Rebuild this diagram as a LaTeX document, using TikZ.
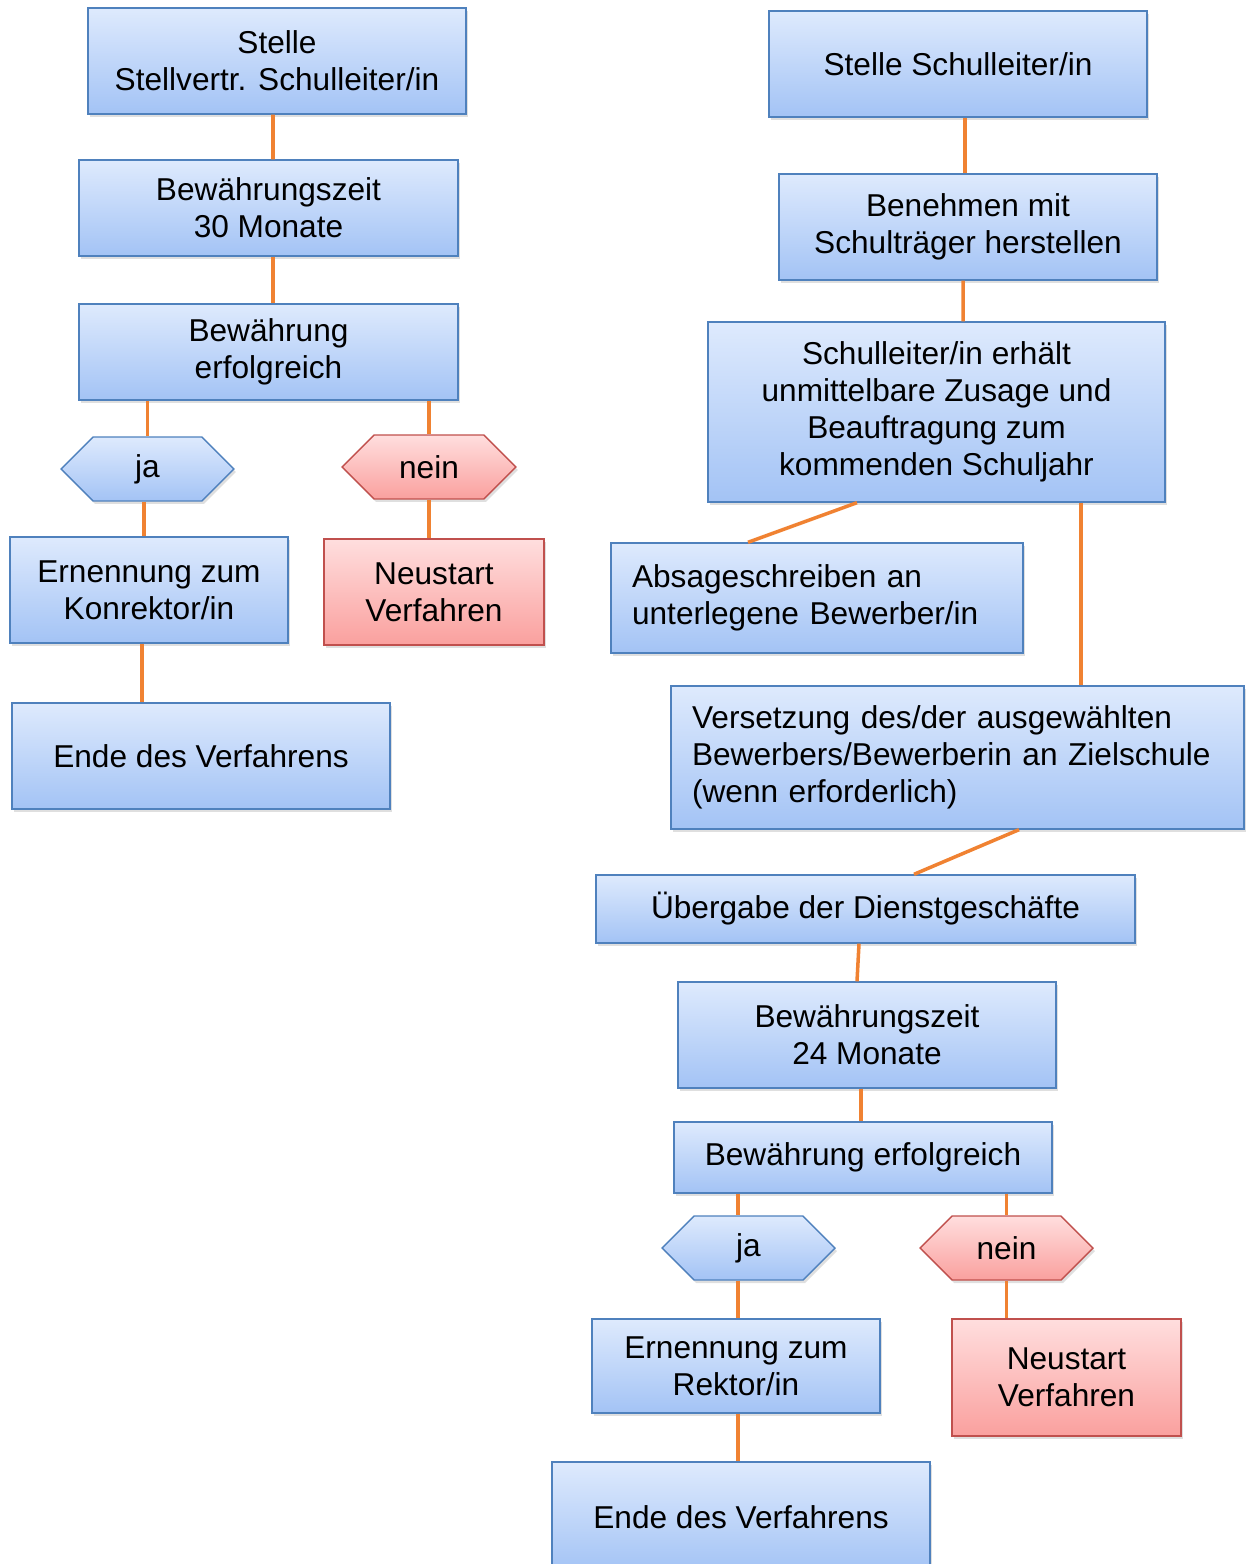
\documentclass[tikz,border=0pt]{standalone}
\usepackage{fontspec}
\setmainfont{Liberation Sans}
\usepackage{xcolor}
\usepackage{tikz}
\usetikzlibrary{calc,shapes.symbols,shadows}
\definecolor{boxtop}{RGB}{222,234,253}
\definecolor{boxbot}{RGB}{163,195,245}
\definecolor{boxline}{RGB}{79,129,189}
\definecolor{redtop}{RGB}{255,222,222}
\definecolor{redbot}{RGB}{250,160,158}
\definecolor{redline}{RGB}{192,80,77}
\definecolor{lnkcol}{RGB}{240,130,50}

\begin{document}
\begin{tikzpicture}[
  x=0.02cm, y=-0.02cm,
  every node/.style={font=\fontsize{18}{21}\selectfont},
  blu/.style={rectangle, draw=boxline, line width=0.8pt, top color=boxtop, bottom color=boxbot,
              align=center, inner sep=0pt,
              drop shadow={shadow xshift=0.04cm, shadow yshift=-0.06cm, opacity=0.25}},
  rot/.style={blu, draw=redline, top color=redtop, bottom color=redbot},
  hexb/.style={blu, signal, signal to=west and east, signal pointer angle=90},
  hexr/.style={hexb, draw=redline, top color=redtop, bottom color=redbot},
  lnk/.style={draw=lnkcol, line width=2pt},
]
\useasboundingbox (0,0) rectangle (1249,1564);
% linke Spalte
\node[blu, minimum width=7.56cm, minimum height=2.12cm] (s1) at (277,61) {Stelle\\Stellvertr. Schulleiter/in};
\node[blu, minimum width=7.58cm, minimum height=1.92cm] (bz1) at (268.5,208) {Bewährungszeit\\30 Monate};
\node[blu, minimum width=7.58cm, minimum height=1.92cm] (be1) at (268.5,352) {Bewährung\\erfolgreich};
\node[hexb, minimum width=3.46cm, minimum height=1.28cm] (ja1) at (147.5,469) {ja};
\node[hexr, minimum width=3.48cm, minimum height=1.28cm] (nein1) at (429,467) {nein};
\node[blu, minimum width=5.56cm, minimum height=2.12cm] (ern1) at (149,590) {Ernennung zum\\Konrektor/in};
\node[rot, minimum width=4.4cm, minimum height=2.12cm] (neu1) at (434,592) {Neustart\\Verfahren};
\node[blu, minimum width=7.56cm, minimum height=2.12cm] (ende1) at (201,756) {Ende des Verfahrens};
% rechte Spalte
\node[blu, minimum width=7.56cm, minimum height=2.12cm] (s2) at (958,64) {Stelle Schulleiter/in};
\node[blu, minimum width=7.56cm, minimum height=2.12cm] (ben) at (968,227) {Benehmen mit\\Schulträger herstellen};
\node[blu, minimum width=9.14cm, minimum height=3.6cm] (erh) at (936.5,412)
  {Schulleiter/in erhält\\unmittelbare Zusage und\\Beauftragung zum\\kommenden Schuljahr};
\node[blu, minimum width=8.24cm, minimum height=2.2cm, text width=7.4cm, align=left] (abs) at (817,598)
  {Absageschreiben an\\unterlegene Bewerber/in};
\node[blu, minimum width=11.46cm, minimum height=2.86cm, text width=10.62cm, align=left] (vers) at (957.5,757.5)
  {Versetzung des/der ausgewählten\\Bewerbers/Bewerberin an Zielschule\\(wenn erforderlich)};
\node[blu, minimum width=10.78cm, minimum height=1.36cm] (ueb) at (865.5,909) {Übergabe der Dienstgeschäfte};
\node[blu, minimum width=7.56cm, minimum height=2.12cm] (bz2) at (867,1035) {Bewährungszeit\\24 Monate};
\node[blu, minimum width=7.56cm, minimum height=1.42cm] (be2) at (863,1157.5) {Bewährung erfolgreich};
\node[hexb, minimum width=3.46cm, minimum height=1.28cm] (ja2) at (748.5,1248) {ja};
\node[hexr, minimum width=3.46cm, minimum height=1.28cm] (nein2) at (1006.5,1248) {nein};
\node[blu, minimum width=5.76cm, minimum height=1.88cm] (ern2) at (736,1366) {Ernennung zum\\Rektor/in};
\node[rot, minimum width=4.58cm, minimum height=2.34cm] (neu2) at (1066.5,1377.5) {Neustart\\Verfahren};
\node[blu, minimum width=7.56cm, minimum height=2.2cm] (ende2) at (741,1517) {Ende des Verfahrens};
% Verbindungen links
\draw[lnk] ($(s1.south)+(-4,0)$) -- ($(bz1.north)+(4.5,0)$);
\draw[lnk] ($(bz1.south)+(4.5,0)$) -- ($(be1.north)+(4.5,0)$);
\draw[lnk] (ja1.north |- be1.south) -- (ja1.north);
\draw[lnk] (nein1.north |- be1.south) -- (nein1.north);
\draw[lnk] ($(ja1.south)+(-3.5,0)$) -- ($(ern1.north)+(-5,0)$);
\draw[lnk] (nein1.south) -- (nein1.south |- neu1.north);
\draw[lnk] ($(ern1.south)+(-7,0)$) -- ($(ende1.north)+(-59,0)$);
% Verbindungen rechts
\draw[lnk] ($(s2.south)+(7,0)$) -- ($(ben.north)+(-3,0)$);
\draw[lnk] ($(ben.south)+(-5,0)$) -- ($(erh.north)+(26.5,0)$);
\draw[lnk] ($(erh.south)+(-79.5,0)$) -- ($(abs.north)+(-69,0)$);
\draw[lnk] ($(erh.south)+(144.5,0)$) -- ($(vers.north)+(123.5,0)$);
\draw[lnk] ($(vers.south)+(61.5,0)$) -- ($(ueb.north)+(48.5,0)$);
\draw[lnk] ($(ueb.south)+(-6.5,0)$) -- ($(bz2.north)+(-10,0)$);
\draw[lnk] ($(bz2.south)+(-6,0)$) -- ($(be2.north)+(-2,0)$);
\draw[lnk] ($(be2.south)+(-125,0)$) -- ($(ja2.north)+(-10.5,0)$);
\draw[lnk] (nein2.north |- be2.south) -- (nein2.north);
\draw[lnk] ($(ja2.south)+(-10.5,0)$) -- ($(ern2.north)+(2,0)$);
\draw[lnk] (nein2.south) -- (nein2.south |- neu2.north);
\draw[lnk] ($(ern2.south)+(2,0)$) -- ($(ende2.north)+(-3,0)$);
\end{tikzpicture}
\end{document}
